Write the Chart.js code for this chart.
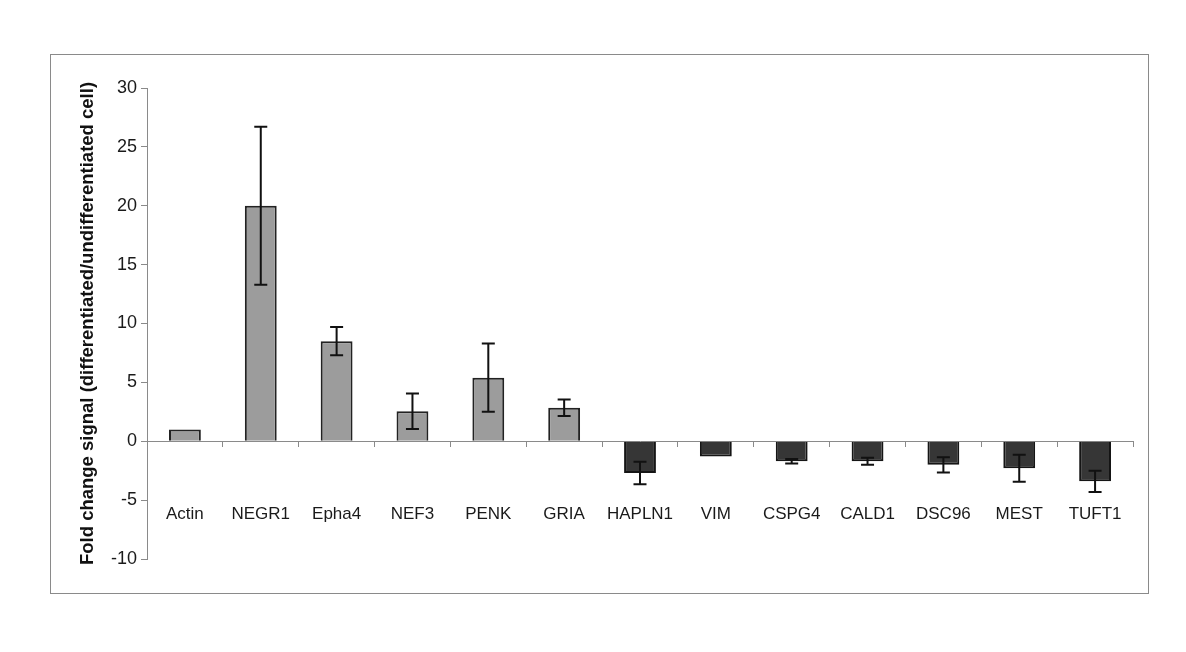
<!DOCTYPE html>
<html lang="en">
<head>
    <meta charset="UTF-8">
    <title>Fold change signal</title>
    <script src="https://cdn.jsdelivr.net/npm/chart.js"></script>
    <style>
        body {
            margin: 0;
            background-color: #ffffff;
            font-family: 'Liberation Sans', Arial, sans-serif;
        }

        .frame {
            position: absolute;
            left: 50px;
            top: 54px;
            width: 1097px;
            height: 538px;
            border: 1px solid #8a8a8a;
        }
    </style>
</head>
<body>
    <div class="frame">
        <canvas id="foldChart" width="1097" height="538"></canvas>
    </div>

    <script>
        // gene names on the x axis
        const genes = ['Actin', 'NEGR1', 'Epha4', 'NEF3', 'PENK', 'GRIA', 'HAPLN1',
            'VIM', 'CSPG4', 'CALD1', 'DSC96', 'MEST', 'TUFT1'];

        // mean fold change per gene
        const foldChange = [1.0, 20.0, 8.5, 2.55, 5.4, 2.85, -2.7, -1.3, -1.7, -1.7, -2.0, -2.3, -3.4];

        // error bar half-length (0 = no bar drawn)
        const errors = [0, 6.7, 1.2, 1.5, 2.9, 0.7, 0.95, 0, 0.2, 0.3, 0.65, 1.15, 0.9];

        const yTicks = { min: -10, max: 30, step: 5 };

        const fills = foldChange.map(v => v >= 0 ? '#9c9c9c' : '#363636');
        const borders = foldChange.map(v => v >= 0 ? '#222222' : '#151515');

        // draws the vertical error bars with caps
        const errorBars = {
            id: 'errorBars',
            afterDatasetsDraw(chart) {
                const ctx = chart.ctx;
                const x = chart.scales.x;
                const y = chart.scales.y;
                ctx.save();
                ctx.strokeStyle = '#111';
                ctx.lineWidth = 2;
                foldChange.forEach((v, i) => {
                    if (!errors[i]) return;
                    const px = x.getPixelForValue(i);
                    const top = y.getPixelForValue(v + errors[i]);
                    const bot = y.getPixelForValue(v - errors[i]);
                    ctx.beginPath();
                    ctx.moveTo(px, top);
                    ctx.lineTo(px, bot);
                    ctx.moveTo(px - 6.5, top);
                    ctx.lineTo(px + 6.5, top);
                    ctx.moveTo(px - 6.5, bot);
                    ctx.lineTo(px + 6.5, bot);
                    ctx.stroke();
                });
                ctx.restore();
            }
        };

        new Chart(document.getElementById('foldChart'), {
            type: 'bar',
            data: {
                labels: genes,
                datasets: [{
                    data: foldChange,
                    backgroundColor: fills,
                    borderColor: borders,
                    borderWidth: 2,
                    barPercentage: 0.42,
                    categoryPercentage: 1.0
                }]
            },
            options: {
                responsive: false,
                animation: false,
                layout: { padding: { top: 33, right: 15, bottom: 34, left: 0 } },
                plugins: {
                    legend: { display: false },
                    tooltip: { enabled: false }
                },
                scales: {
                    x: {
                        position: { y: 0 },
                        afterFit(scale) {
                            scale.paddingLeft = 0;
                            scale.paddingRight = 0;
                        },
                        grid: {
                            offset: true,
                            drawOnChartArea: false,
                            drawTicks: true,
                            tickLength: 5,
                            color: '#8a8a8a'
                        },
                        border: { color: '#8a8a8a', width: 1 },
                        ticks: {
                            color: '#1a1a1a',
                            padding: 58,
                            maxRotation: 0,
                            font: { family: "'Liberation Sans', Arial, sans-serif", size: 17 }
                        }
                    },
                    y: {
                        min: yTicks.min,
                        max: yTicks.max,
                        afterFit(scale) { scale.width = 96; },
                        grid: {
                            drawOnChartArea: false,
                            tickLength: 6,
                            color: '#8a8a8a'
                        },
                        border: { color: '#8a8a8a', width: 1 },
                        ticks: {
                            stepSize: yTicks.step,
                            color: '#1a1a1a',
                            padding: 4,
                            font: { family: "'Liberation Sans', Arial, sans-serif", size: 18 }
                        },
                        title: {
                            display: true,
                            text: 'Fold change signal (differentiated/undifferentiated cell)',
                            color: '#111',
                            padding: { top: 26, bottom: 4 },
                            font: { family: "'Liberation Sans', Arial, sans-serif", size: 18.5, weight: 'bold' }
                        }
                    }
                }
            },
            plugins: [errorBars]
        });
    </script>
</body>
</html>
